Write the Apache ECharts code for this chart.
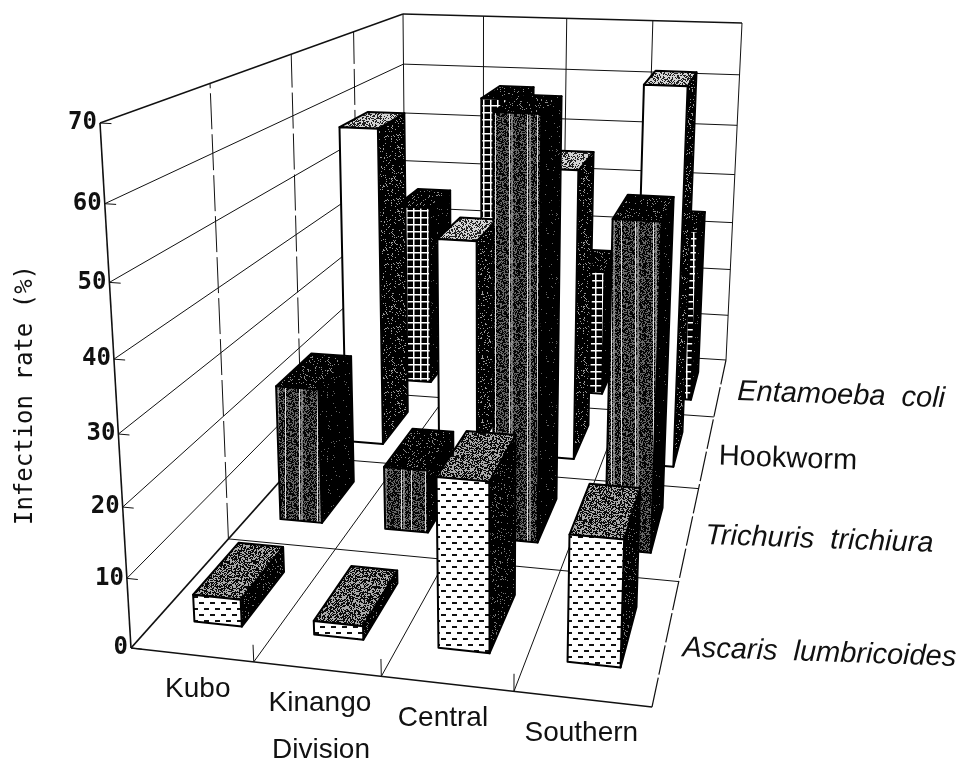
<!DOCTYPE html>
<html>
<head>
<meta charset="utf-8">
<style>
html, body { margin: 0; padding: 0; background: #fff; }
#main { width: 961px; height: 761px; }
</style>
<script src="https://cdn.jsdelivr.net/npm/echarts@6/dist/echarts.min.js"></script>
</head>
<body>
<div id="main"></div>
<script>
// chart values
const divisions = ["Kubo", "Kinango", "Central", "Southern"];
const species = ["Ascaris  lumbricoides", "Trichuris  trichiura", "Hookworm", "Entamoeba  coli"];
const yTicks = [0, 10, 20, 30, 40, 50, 60, 70];
const ascaris = [4, 2, 24.3, 18];
const trichuris = [22.3, 10.4, 66.3, 51.6];
const hookworm = [57, 38.5, 51.5, 66];
const entamoeba = [36, 57.5, 25, 34];

// view of the box: corners on the page, order front-left, front-right, back-right, back-left
const floorQuad = [[131, 648], [652, 707], [726, 360], [406, 340]];
const roofQuad = [[100, 123], [672, 153], [742, 23], [403, 14]];
const GRID_H = 700;

function quadMap(q) {
    const [p0, p1, p2, p3] = q;
    const sx = p0[0] - p1[0] + p2[0] - p3[0];
    const sy = p0[1] - p1[1] + p2[1] - p3[1];
    const dx1 = p1[0] - p2[0], dx2 = p3[0] - p2[0];
    const dy1 = p1[1] - p2[1], dy2 = p3[1] - p2[1];
    const den = dx1 * dy2 - dx2 * dy1;
    const g = (sx * dy2 - dx2 * sy) / den;
    const h = (dx1 * sy - sx * dy1) / den;
    const a = p1[0] - p0[0] + g * p1[0], b = p3[0] - p0[0] + h * p3[0], c = p0[0];
    const d = p1[1] - p0[1] + g * p1[1], e = p3[1] - p0[1] + h * p3[1], f = p0[1];
    return function (u, v) {
        const w = g * u + h * v + 1;
        return [(a * u + b * v + c) / w, (d * u + e * v + f) / w];
    };
}
const floorMap = quadMap(floorQuad);
const roofMap = quadMap(roofQuad);

// col, row in box units (0..4 each), frac = height share
function project(col, row, frac) {
    const u = col / 4, v = row / 4;
    const a = floorMap(u, v), b = roofMap(u, v);
    const t = frac / (1 + 0.09 * (1 - frac));
    return [a[0] + (b[0] - a[0]) * t, a[1] + (b[1] - a[1]) * t];
}

function heightFrac(api, val) {
    return (GRID_H - api.coord([0, val])[1]) / GRID_H;
}

function noise(i) {
    const s = Math.sin(i * 12.9898) * 43758.5453;
    return s - Math.floor(s);
}

function makeTile(w, h, base, paint) {
    const c = document.createElement("canvas");
    c.width = w;
    c.height = h;
    const ctx = c.getContext("2d");
    ctx.fillStyle = base;
    ctx.fillRect(0, 0, w, h);
    paint(ctx, w, h);
    return { image: c, repeat: "repeat" };
}

function speckle(w, h, color, share) {
    return function (ctx) {
        ctx.fillStyle = color;
        for (let y = 0; y < h; y++) {
            for (let x = 0; x < w; x++) {
                if (noise(x * 67 + y * 131 + 7) < share) ctx.fillRect(x, y, 1, 1);
            }
        }
    };
}

const fills = {
    dots: makeTile(11, 12, "#fff", function (ctx) {
        ctx.fillStyle = "#111";
        ctx.fillRect(1, 2, 5, 2);
        ctx.fillRect(6, 8, 5, 2);
    }),
    blotch: makeTile(64, 64, "#aaa", speckle(64, 64, "#0a0a0a", 0.52)),
    blotchSide: makeTile(64, 64, "#000", speckle(64, 64, "#777", 0.09)),
    light: makeTile(48, 48, "#d4d4d4", speckle(48, 48, "#222", 0.42)),
    darkSide: makeTile(64, 64, "#000", speckle(64, 64, "#999", 0.12)),
    black: makeTile(64, 64, "#000", speckle(64, 64, "#888", 0.1)),
    pure: makeTile(64, 64, "#000", speckle(64, 64, "#666", 0.03)),
    stripes: makeTile(42, 64, "#666", function (ctx) {
        speckle(42, 64, "#050505", 0.55)(ctx);
        ctx.fillStyle = "#ddd";
        ctx.fillRect(5, 0, 1, 64);
        ctx.fillRect(23, 0, 1, 64);
        ctx.fillRect(33, 0, 1, 64);
        ctx.fillStyle = "rgba(200,200,200,0.5)";
        ctx.fillRect(7, 0, 2, 64);
        ctx.fillRect(25, 0, 2, 64);
    }),
    mesh: makeTile(7, 7, "#000", function (ctx) {
        ctx.fillStyle = "#fff";
        ctx.fillRect(0, 0, 7, 1.5);
        ctx.fillRect(0, 0, 1.5, 7);
    })
};

// cell share that a bar takes up
const BAR_U0 = 0.31, BAR_U1 = 0.71, BAR_V0 = 0.25, BAR_V1 = 0.74;

function barRender(row, look) {
    return function (params, api) {
        const col = api.value(0);
        const f = heightFrac(api, api.value(1));
        const x0 = col + BAR_U0, x1 = col + BAR_U1;
        const y0 = row + BAR_V0, y1 = row + BAR_V1;
        const lineStyle = { stroke: "#000", lineWidth: 2, lineJoin: "round" };
        const face = function (pts, fill) {
            return {
                type: "polygon",
                shape: { points: pts },
                style: Object.assign({ fill: fill }, lineStyle)
            };
        };
        return {
            type: "group",
            children: [
                face([project(x1, y0, 0), project(x1, y1, 0), project(x1, y1, f), project(x1, y0, f)], look.side),
                face([project(x0, y0, f), project(x1, y0, f), project(x1, y1, f), project(x0, y1, f)], look.top),
                face([project(x0, y0, 0), project(x1, y0, 0), project(x1, y0, f), project(x0, y0, f)], look.front)
            ]
        };
    };
}

function boxRender(params, api) {
    const kids = [];
    const line = function (a, b, w, dash) {
        kids.push({
            type: "line",
            shape: { x1: a[0], y1: a[1], x2: b[0], y2: b[1] },
            style: { stroke: "#111", lineWidth: w, lineDash: dash || null }
        });
    };
    yTicks.forEach(function (t) {
        const f = heightFrac(api, t);
        if (t > 0) {
            line(project(0, 0, f), project(0, 4, f), t === 70 ? 1.4 : 1);
            line(project(0, 4, f), project(4, 4, f), t === 70 ? 1.4 : 1);
        }
        line(project(0, 0, f), project(0.09, 0, f), 1);
    });
    for (let i = 1; i < 4; i++) {
        line(project(0, i, 0), project(0, i, 1), 1, [36, 5]);
        line(project(i, 4, 0), project(i, 4, 1), 1);
        line(project(i, 0, 0), project(i, 4, 0), 1);
        line(project(0, i, 0), project(4, i, 0), 1);
        line(project(i, 0, 0), project(i, 0, 0.035), 1);
    }
    line(project(0, 0, 0), project(0, 0, 1), 1.6);
    line(project(0, 4, 0), project(0, 4, 1), 1);
    line(project(4, 4, 0), project(4, 4, 1), 1);
    line(project(0, 0, 0), project(0, 4, 0), 1.8);
    line(project(0, 0, 0), project(4, 0, 0), 1.3);
    line(project(4, 0, 0), project(4, 4, 0), 1.2, [30, 3]);
    line(project(0, 4, 0), project(4, 4, 0), 1);

    const numFont = "bold 24px 'DejaVu Sans Mono'";
    yTicks.forEach(function (t) {
        const p = project(0, 0, heightFrac(api, t));
        kids.push({
            type: "text",
            style: { x: p[0] - 3, y: p[1], text: String(t), font: numFont, fill: "#111", align: "right", verticalAlign: "middle" }
        });
    });
    const labelFont = "28px 'Liberation Sans'";
    const colNudge = [0, -3, -10, -7];
    divisions.forEach(function (name, i) {
        const p = project(i + 0.5, 0, 0);
        kids.push({
            type: "text",
            style: { x: p[0] + 6 + colNudge[i], y: p[1] + 34, text: name, font: labelFont, fill: "#111", align: "center", verticalAlign: "middle" }
        });
    });
    const rowNudge = [[16, 9], [16, 4], [12, 6], [17, 5]];
    species.forEach(function (name, i) {
        const p = project(4, i + 0.5, 0);
        kids.push({
            type: "text",
            x: p[0] + rowNudge[i][0],
            y: p[1] + rowNudge[i][1],
            rotation: -0.035,
            style: {
                x: 0, y: 0, text: name, fill: "#111", align: "left", verticalAlign: "middle",
                font: (name === "Hookworm" ? "" : "italic ") + "29px 'Liberation Sans'"
            }
        });
    });
    kids.push({
        type: "text",
        style: { x: 321, y: 750, text: "Division", font: labelFont, fill: "#111", align: "center", verticalAlign: "middle" }
    });
    kids.push({
        type: "text",
        x: 26,
        y: 395,
        rotation: Math.PI / 2,
        style: { x: 0, y: 0, text: "Infection rate (%)", font: "24px 'DejaVu Sans Mono'", fill: "#111", align: "center", verticalAlign: "middle" }
    });
    return { type: "group", children: kids };
}

function barSeries(name, values, row, look) {
    return {
        name: name,
        type: "custom",
        xAxisIndex: 0,
        yAxisIndex: 0,
        clip: false,
        renderItem: barRender(row, look),
        encode: { x: 0, y: 1 },
        data: values.map(function (v, i) { return [i, v]; })
    };
}

const chart = echarts.init(document.getElementById("main"), null, { renderer: "canvas" });
chart.setOption({
    animation: false,
    backgroundColor: "#fff",
    grid: { left: 0, top: 0, width: 961, height: GRID_H },
    xAxis: { type: "category", data: divisions, show: false },
    yAxis: { type: "value", min: 0, max: 70, interval: 10, show: false },
    series: [
        { type: "custom", clip: false, silent: true, renderItem: boxRender, encode: { x: 0, y: 1 }, data: [[0, 0]] },
        barSeries("Entamoeba coli", entamoeba, 3, { front: fills.mesh, top: fills.black, side: fills.pure }),
        barSeries("Hookworm", hookworm, 2, { front: "#fff", top: fills.light, side: fills.darkSide }),
        barSeries("Trichuris trichiura", trichuris, 1, { front: fills.stripes, top: fills.black, side: fills.pure }),
        barSeries("Ascaris lumbricoides", ascaris, 0, { front: fills.dots, top: fills.blotch, side: fills.blotchSide })
    ]
});
window.addEventListener("resize", function () {
    chart.resize();
});
</script>
</body>
</html>
